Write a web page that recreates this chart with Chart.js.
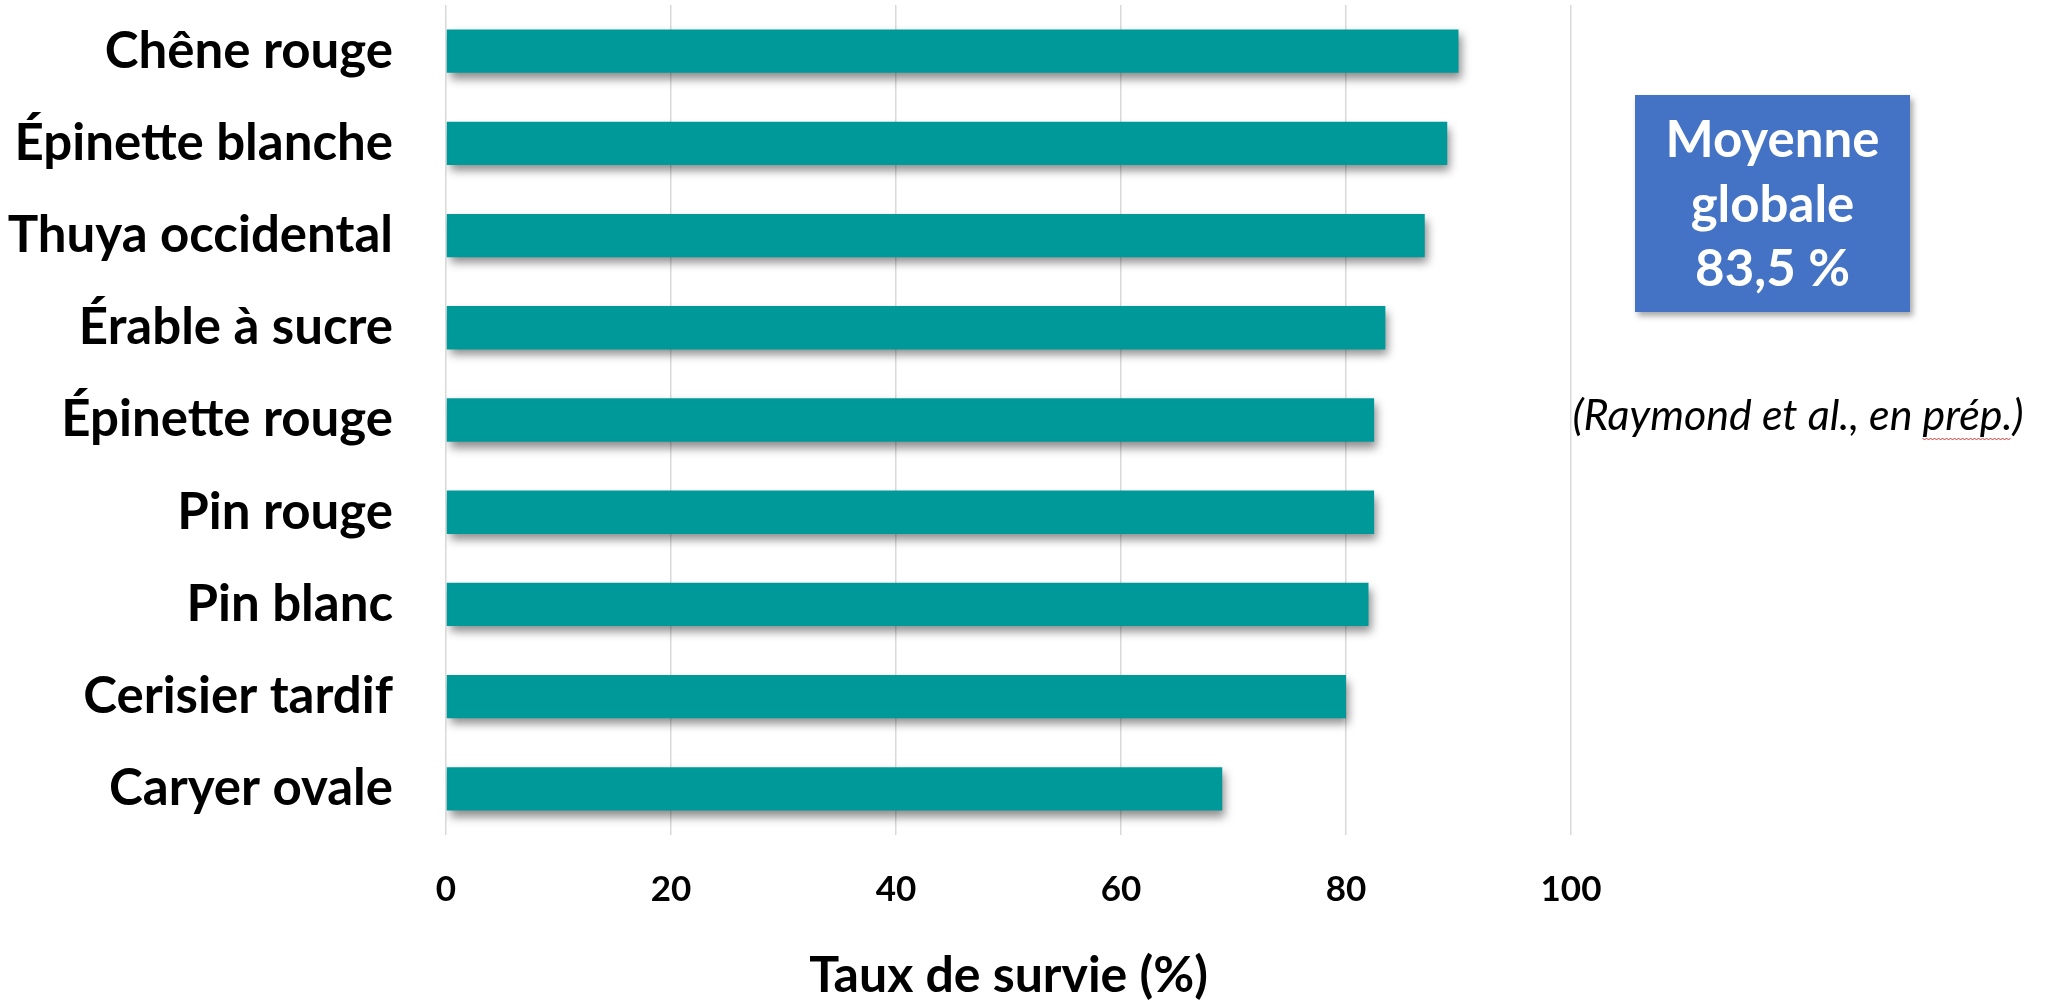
<!DOCTYPE html>
<html lang="fr">
<head>
<meta charset="utf-8">
<title>Taux de survie par essence</title>
<script src="https://cdn.jsdelivr.net/npm/chart.js@4.4.0/dist/chart.umd.min.js"></script>
<style>
  html, body { margin: 0; padding: 0; background: #ffffff; }
  #wrap { position: relative; width: 2052px; height: 1003px; }
  canvas { display: block; }
</style>
</head>
<body>
<div id="wrap"><canvas id="chart" width="2052" height="1003"></canvas></div>
<script>
// Survival rate (%) per tree species
const categories = [
  'Chêne rouge',
  'Épinette blanche',
  'Thuya occidental',
  'Érable à sucre',
  'Épinette rouge',
  'Pin rouge',
  'Pin blanc',
  'Cerisier tardif',
  'Caryer ovale'
];
const survivalRates = [90, 89, 87, 83.5, 82.5, 82.5, 82, 80, 69];
const xTickValues = [0, 20, 40, 60, 80, 100];
const globalMean = 83.5;
const meanLines = ['Moyenne', 'globale', String(globalMean).replace('.', ',') + ' %'];
const citation = '(Raymond et al., en prép.)';
const axisTitle = 'Taux de survie (%)';

const FONT = 'Lato, "Open Sans", sans-serif';

// Soft drop shadow under the bars
const barShadow = {
  id: 'barShadow',
  beforeDatasetsDraw(chart) {
    const ctx = chart.ctx;
    ctx.save();
    ctx.shadowColor = 'rgba(0,0,0,0.45)';
    ctx.shadowBlur = 9;
    ctx.shadowOffsetX = 3;
    ctx.shadowOffsetY = 6;
  },
  afterDatasetsDraw(chart) {
    chart.ctx.restore();
  }
};

// Blue summary box with the overall mean, plus the source note
const meanBox = {
  id: 'meanBox',
  afterDraw(chart) {
    const ctx = chart.ctx;
    const bx = 1635, by = 95, bw = 275, bh = 217;
    ctx.save();
    ctx.shadowColor = 'rgba(0,0,0,0.35)';
    ctx.shadowBlur = 6;
    ctx.shadowOffsetX = 3;
    ctx.shadowOffsetY = 4;
    ctx.fillStyle = '#4472C4';
    ctx.fillRect(bx, by, bw, bh);
    ctx.restore();

    ctx.save();
    ctx.fillStyle = '#ffffff';
    ctx.font = 'bold 51px ' + FONT;
    ctx.textAlign = 'center';
    ctx.textBaseline = 'middle';
    const cx = bx + bw / 2;
    const lineY = [141, 206, 270];
    meanLines.forEach((t, i) => ctx.fillText(t, cx, lineY[i]));
    ctx.restore();

    // source note
    ctx.save();
    ctx.fillStyle = '#000000';
    ctx.font = 'italic 43px ' + FONT;
    ctx.textAlign = 'center';
    ctx.textBaseline = 'alphabetic';
    const nx = 1798, ny = 430;
    ctx.fillText(citation, nx, ny);
    // spell-check style squiggle under "prép."
    const full = ctx.measureText(citation).width;
    const startText = citation.slice(0, citation.indexOf('prép.'));
    const x0 = nx - full / 2 + ctx.measureText(startText).width;
    const x1 = x0 + ctx.measureText('prép.').width;
    ctx.strokeStyle = '#e03030';
    ctx.lineWidth = 1;
    ctx.beginPath();
    let up = true;
    for (let x = x0; x <= x1; x += 2) {
      const y = ny + 8 + (up ? 0 : 2);
      if (x === x0) ctx.moveTo(x, y); else ctx.lineTo(x, y);
      up = !up;
    }
    ctx.stroke();
    ctx.restore();
  }
};

new Chart(document.getElementById('chart'), {
  type: 'bar',
  data: {
    labels: categories,
    datasets: [{
      data: survivalRates,
      backgroundColor: '#009999',
      borderWidth: 0,
      categoryPercentage: 1,
      barPercentage: 0.47
    }]
  },
  plugins: [barShadow, meanBox],
  options: {
    indexAxis: 'y',
    responsive: false,
    animation: false,
    devicePixelRatio: 1,
    layout: { padding: { top: 5, right: 481, bottom: 0, left: 0 } },
    plugins: {
      legend: { display: false },
      tooltip: { enabled: false }
    },
    scales: {
      x: {
        min: 0,
        max: 100,
        afterBuildTicks(scale) {
          scale.ticks = xTickValues.map(v => ({ value: v }));
        },
        afterFit(scale) { scale.height = 168; },
        grid: { color: '#d9d9d9', lineWidth: 1.5, drawTicks: false },
        border: { display: false },
        ticks: {
          padding: 34,
          color: '#000000',
          font: { family: FONT, size: 35, weight: 'bold' }
        },
        title: {
          display: true,
          text: axisTitle,
          color: '#000000',
          font: { family: FONT, size: 50, weight: 'bold', lineHeight: 1 },
          padding: { top: 0, bottom: 2 }
        }
      },
      y: {
        afterFit(scale) {
          scale.width = 446;
          scale.paddingTop = 0;
          scale.paddingBottom = 0;
        },
        grid: { display: false, drawTicks: false },
        border: { display: false },
        ticks: {
          padding: 53,
          color: '#000000',
          font: { family: FONT, size: 51, weight: 'bold' }
        }
      }
    }
  }
});
</script>
</body>
</html>
